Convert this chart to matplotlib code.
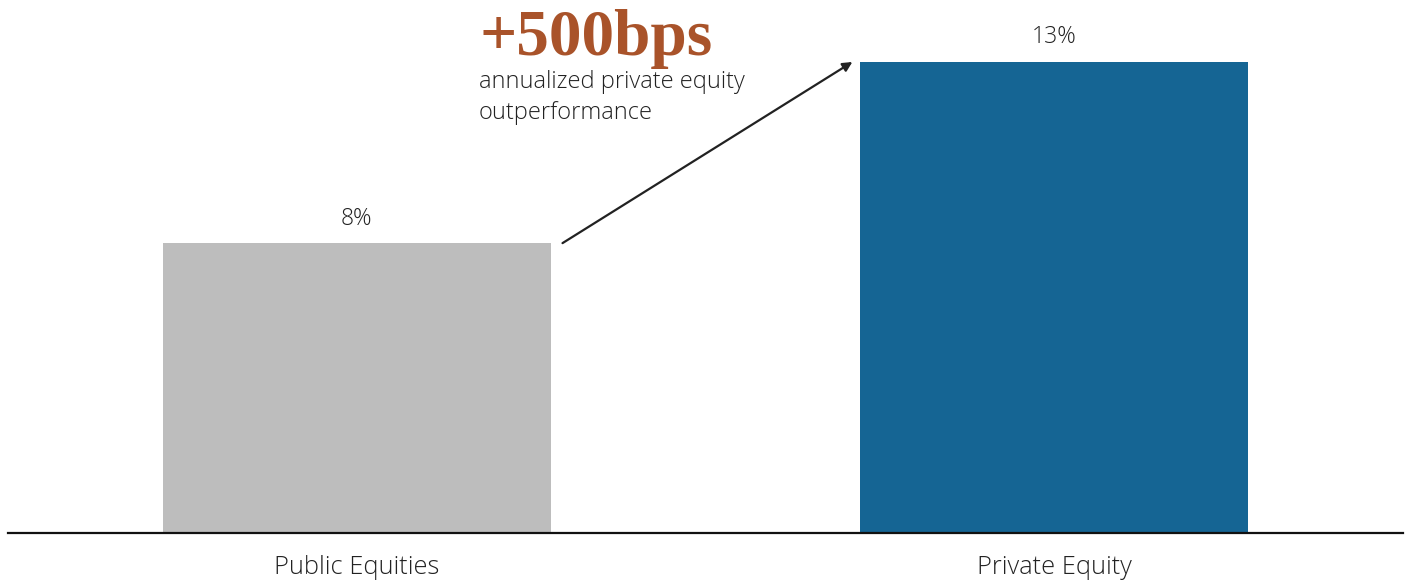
import matplotlib
matplotlib.use("Agg")
import matplotlib.pyplot as plt

categories = ["Public Equities", "Private Equity"]
values = [8, 13]
value_labels = ["8%", "13%"]
colors = ["#bdbdbd", "#156594"]
headline = "+500bps"
subtitle = "annualized private equity\noutperformance"

FONT = "Open Sans"
W = "light"
TXT = "#222222"

fig = plt.figure(figsize=(14.11, 5.8), dpi=100)
ax = fig.add_axes([8/1411, 47/580, 1395/1411, 533/580])
x = list(range(len(categories)))
ax.bar(x, values, width=0.556, color=colors)
ax.set_xlim(-0.5, 1.5)
ax.set_ylim(0, 14.71)
for s in ["top", "right", "left"]:
    ax.spines[s].set_visible(False)
ax.spines["bottom"].set_linewidth(1.6)
ax.spines["bottom"].set_color("#111111")
ax.set_yticks([])
ax.set_xticks(x)
ax.set_xticklabels(categories, fontsize=18.3, color=TXT, family=FONT, fontweight=W)
ax.tick_params(axis="x", length=0, pad=16)

for xi, v, lab in zip(x, values, value_labels):
    ax.annotate(lab, (xi, v), xytext=(0, 9), textcoords="offset points",
                ha="center", va="bottom", fontsize=16.5, color=TXT,
                family=FONT, fontweight=W)

ax.annotate("", xy=(0.7106, 13.0), xytext=(0.295, 8.0),
            arrowprops=dict(arrowstyle="-|>", color="#222222", lw=1.6,
                            mutation_scale=14, shrinkA=0, shrinkB=0))

fig.text(479/1411, 1 - 55/580, headline, fontsize=47, fontweight="bold",
         family="Liberation Serif", color="#A9532A", ha="left", va="baseline")
fig.text(479/1411, 1 - 70/580, subtitle, fontsize=17, family=FONT, fontweight=W,
         color=TXT, ha="left", va="top", linespacing=1.4)

fig.savefig("out.png", dpi=100)
